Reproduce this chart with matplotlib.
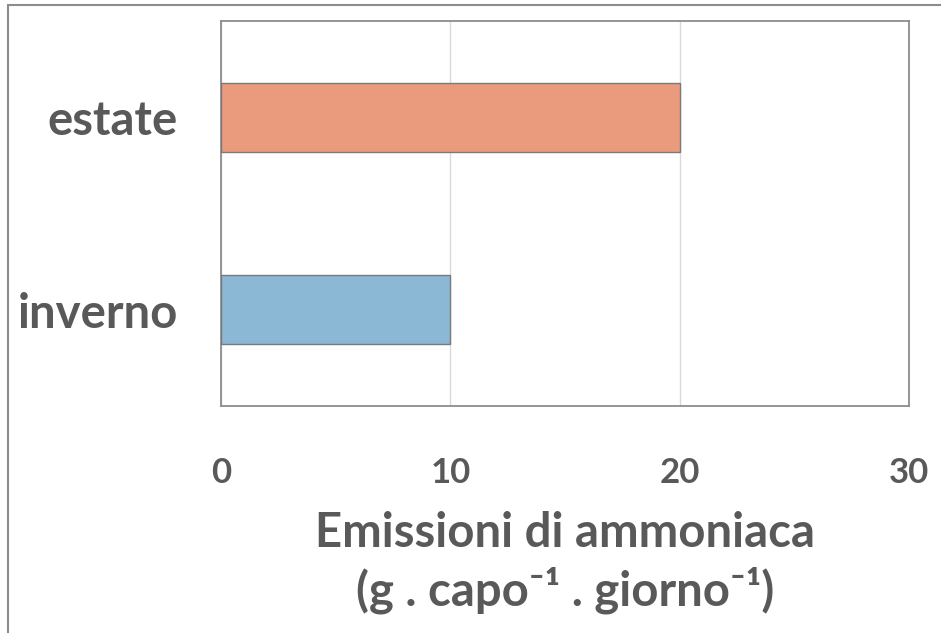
import matplotlib
matplotlib.use("Agg")
import matplotlib.pyplot as plt
from matplotlib.patches import Rectangle

# Ammonia emissions per season
categories = ["inverno", "estate"]
values = [10, 20]
bar_colors = ["#8BB8D4", "#EA9A7D"]
xticks = [0, 10, 20, 30]

TEXT = "#595959"
plt.rcParams['font.family'] = ['Lato', 'DejaVu Sans']

fig = plt.figure(figsize=(9.41, 6.33), dpi=100)
ax = fig.add_axes([221 / 941, 1 - 406 / 633, (909 - 221) / 941, (406 - 21) / 633])

ax.barh(range(len(categories)), values, height=0.36, color=bar_colors,
        edgecolor="#7a7a7a", linewidth=1.0, zorder=3)

ax.set_xlim(0, 30)
ax.set_ylim(-0.5, len(categories) - 0.5)
ax.set_xticks(xticks)
ax.set_xticklabels([str(t) for t in xticks])
ax.set_yticks(range(len(categories)))
ax.set_yticklabels(categories)
ax.tick_params(axis="both", length=0, labelcolor=TEXT)
ax.tick_params(axis="x", labelsize=25, pad=37)
ax.tick_params(axis="y", labelsize=34, pad=31)
for lbl in ax.get_xticklabels() + ax.get_yticklabels():
    lbl.set_fontweight("bold")

ax.grid(axis="x", color="#D9D9D9", linewidth=1.0, zorder=0)
for s in ax.spines.values():
    s.set_color("#8c8c8c")
    s.set_linewidth(1.3)

ax.set_xlabel("Emissioni di ammoniaca\n(g . capo\u207b\u00b9 . giorno\u207b\u00b9)",
              fontsize=34, fontweight="bold", color=TEXT, linespacing=1.28)
ax.xaxis.set_label_coords(0.5, -0.274)
ax.xaxis.label.set_verticalalignment("top")

# outer frame around the whole chart
fig.patches.append(Rectangle((8 / 941, -0.01), 1.0, 1 - 5 / 633 + 0.01,
                             transform=fig.transFigure, fill=False,
                             edgecolor="#8c8c8c", linewidth=1.5))

fig.savefig("out.png", dpi=100)
